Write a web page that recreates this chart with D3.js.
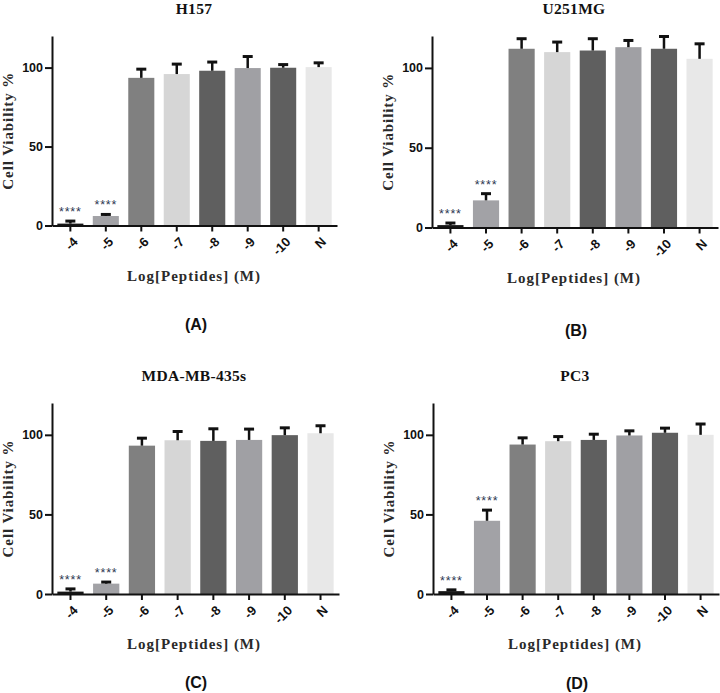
<!DOCTYPE html>
<html><head><meta charset="utf-8">
<script src="https://cdn.jsdelivr.net/npm/d3@7"></script>
<style>body{margin:0;background:#fff} svg{display:block}</style>
</head><body><svg id="c" width="720" height="693"></svg>
<script>
const categories = ["-4","-5","-6","-7","-8","-9","-10","N"];
const cellLines = ["H157","U251MG","MDA-MB-435s","PC3"];
const panelLetters = ["(A)","(B)","(C)","(D)"];
const h157Mean = [1.2, 6.0, 93.5, 95.9, 98.0, 99.7, 99.9, 100.3];
const h157Err  = [1.6, 1.0, 5.5, 6.3, 5.5, 7.3, 2.0, 2.7];
const u251Mean = [1.5, 17.0, 112.0, 109.9, 110.9, 113.0, 112.0, 105.7];
const u251Err  = [1.3, 4.2, 6.3, 6.3, 7.4, 4.2, 7.7, 9.4];
const mdaMean  = [1.5, 6.5, 93.2, 96.6, 96.2, 96.8, 99.8, 101.0];
const mdaErr   = [1.7, 1.0, 4.7, 5.5, 7.6, 6.8, 4.6, 4.7];
const pc3Mean  = [1.8, 46.0, 93.9, 96.0, 96.8, 99.6, 101.3, 100.0];
const pc3Err   = [0.8, 6.7, 4.2, 2.9, 3.6, 2.9, 2.9, 6.8];
const significance = ["****","****","","","","","",""];
const yTicks = [0, 50, 100];
const yMax = 120;
const xTitle = "Log[Peptides] (M)";
const yTitle = "Cell Viability %";
const barColors = ["#161616","#a2a2a6","#808080","#d6d6d6","#5f5f5f","#a0a0a4","#5f5f5f","#e8e8e8"];

const means = [h157Mean, u251Mean, mdaMean, pc3Mean];
const errs = [h157Err, u251Err, mdaErr, pc3Err];

// layout (positions only)
const layout = [
  {left: 52, right: 337, top: 36, bottom: 225.5, letterY: 330},
  {left: 432, right: 718, top: 36, bottom: 227.5, letterY: 336},
  {left: 52, right: 339, top: 403, bottom: 594, letterY: 688},
  {left: 433, right: 719, top: 403, bottom: 594, letterY: 689}
];

const svg = d3.select("#c");
const serif = "'Liberation Serif','DejaVu Serif',serif";
const sans = "'Liberation Sans',Arial,sans-serif";

layout.forEach((L, p) => {
  const g = svg.append("g");
  const x = d3.scaleBand().domain(categories).range([L.left, L.right])
    .paddingInner(0.265).paddingOuter(0.15);
  const y = d3.scaleLinear().domain([0, yMax]).range([L.bottom, L.top]);
  const data = categories.map((c, i) => ({c, m: means[p][i], e: errs[p][i], s: significance[i], col: barColors[i]}));

  // bars
  g.selectAll("rect.bar").data(data).enter().append("rect")
    .attr("x", d => x(d.c)).attr("width", x.bandwidth())
    .attr("y", d => y(d.m)).attr("height", d => y(0) - y(d.m))
    .attr("fill", d => d.col);

  // error bars (upper only)
  const cw = 10;
  g.selectAll("line.stem").data(data).enter().append("line")
    .attr("x1", d => x(d.c) + x.bandwidth()/2).attr("x2", d => x(d.c) + x.bandwidth()/2)
    .attr("y1", d => y(d.m)).attr("y2", d => y(d.m + d.e))
    .attr("stroke", "#111").attr("stroke-width", 2.5);
  g.selectAll("line.cap").data(data).enter().append("line")
    .attr("x1", d => x(d.c) + x.bandwidth()/2 - cw/2).attr("x2", d => x(d.c) + x.bandwidth()/2 + cw/2)
    .attr("y1", d => y(d.m + d.e)).attr("y2", d => y(d.m + d.e))
    .attr("stroke", "#111").attr("stroke-width", 3);

  // significance stars
  g.selectAll("text.star").data(data.filter(d => d.s)).enter().append("text")
    .attr("x", d => x(d.c) + x.bandwidth()/2)
    .attr("y", d => y(d.m + d.e) - 5)
    .attr("text-anchor", "middle")
    .attr("font-family", sans).attr("font-size", 12.5).attr("letter-spacing", 0.8)
    .attr("fill", "#2b3650")
    .text(d => d.s);

  // y axis
  const ya = g.append("g").attr("transform", `translate(${L.left},0)`)
    .call(d3.axisLeft(y).tickValues(yTicks).tickSize(7).tickSizeOuter(0).tickPadding(2));
  ya.select(".domain").attr("stroke", "#111").attr("stroke-width", 2);
  ya.selectAll(".tick line").attr("stroke", "#111").attr("stroke-width", 2);
  ya.selectAll(".tick text").attr("font-family", sans).attr("font-weight", "bold")
    .attr("font-size", 12.5).attr("fill", "#111");

  // x axis
  const xa = g.append("g").attr("transform", `translate(0,${L.bottom})`)
    .call(d3.axisBottom(x).tickSize(6).tickSizeOuter(0).tickPadding(3));
  xa.select(".domain").attr("stroke", "#111").attr("stroke-width", 2.2);
  xa.selectAll(".tick line").attr("stroke", "#111").attr("stroke-width", 2);
  xa.selectAll(".tick text").attr("font-family", sans).attr("font-weight", "bold")
    .attr("font-size", 13).attr("fill", "#111")
    .attr("text-anchor", "end")
    .attr("transform", "translate(5,14) rotate(-45)")
    .attr("dy", "0.35em").attr("y", 0).attr("x", 0);

  const cx = L.left + 142;
  // title
  g.append("text").attr("x", cx).attr("y", L.top - 22)
    .attr("text-anchor", "middle").attr("font-family", serif).attr("font-weight", "bold")
    .attr("font-size", 15.5).attr("letter-spacing", 0.3).attr("fill", "#111").text(cellLines[p]);
  // x title
  g.append("text").attr("x", cx).attr("y", L.bottom + 55)
    .attr("text-anchor", "middle").attr("font-family", serif).attr("font-weight", "bold")
    .attr("font-size", 15).attr("letter-spacing", 1).attr("fill", "#2a2a2a").text(xTitle);
  // y title
  g.append("text").attr("transform", `translate(${L.left - 39},${(L.top + L.bottom)/2}) rotate(-90)`)
    .attr("text-anchor", "middle").attr("font-family", serif).attr("font-weight", "bold")
    .attr("font-size", 15).attr("letter-spacing", 0.9).attr("fill", "#2a2a2a").text(yTitle);
  // panel letter
  g.append("text").attr("x", L.left + 144).attr("y", L.letterY)
    .attr("text-anchor", "middle").attr("font-family", sans).attr("font-weight", "bold")
    .attr("font-size", 16).attr("fill", "#111").text(panelLetters[p]);
});
</script></body></html>
